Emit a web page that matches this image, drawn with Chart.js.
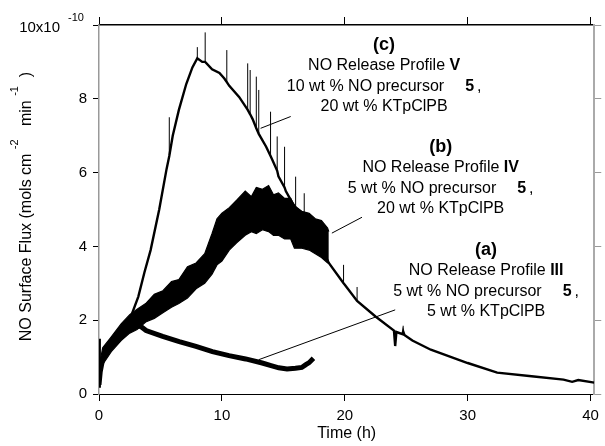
<!DOCTYPE html>
<html>
<head>
<meta charset="utf-8">
<script src="https://cdn.jsdelivr.net/npm/chart.js@4.4.0/dist/chart.umd.min.js"></script>
<style>
  body { margin: 0; background: #fff; }
  #chart { display: block; }
</style>
</head>
<body>
<canvas id="chart" width="605" height="446"></canvas>
<script>
// DATA  (time in h, flux in units of 1e-10 mol cm-2 min-1)
const xTicks = [0, 10, 20, 30, 40];
const yTicks = [0, 2, 4, 6, 8, 10];

// (a) profile III
const timeIII = [0, 0.1, 0.3, 0.7, 1.2, 1.8, 2.4, 3.0, 3.4, 3.83, 5.18, 6.53, 7.89, 9.23, 10.58, 11.93, 13.28, 14.0, 14.63, 15.3, 15.98, 16.5, 16.8, 17.1, 17.45];
const fluxIII = [0.25, 0.6, 0.95, 1.2, 1.35, 1.55, 1.75, 1.85, 1.83, 1.72, 1.56, 1.42, 1.29, 1.15, 1.04, 0.95, 0.84, 0.77, 0.71, 0.68, 0.70, 0.72, 0.79, 0.85, 0.97];

// (b) profile IV - noisy band, read as upper / lower edge
const timeIV = [0, 0.1, 0.3, 1.0, 1.8, 2.5, 3.1, 3.8, 4.5, 5.2, 5.9, 6.5, 7.2, 7.9, 8.6, 9.2, 9.6, 10.0, 10.6, 11.2, 11.9, 12.4, 12.8, 13.3, 13.8, 14.2, 14.6, 15.1, 15.6, 15.9, 16.5, 17.1, 17.6, 18.1, 18.6, 18.7];
const upperIV = [0.35, 0.9, 1.25, 1.55, 1.9, 2.15, 2.3, 2.45, 2.7, 2.8, 3.05, 3.1, 3.45, 3.55, 3.8, 4.35, 4.75, 4.9, 5.05, 5.25, 5.5, 5.35, 5.6, 5.55, 5.65, 5.4, 5.45, 5.3, 5.3, 5.1, 4.95, 4.9, 4.75, 4.7, 4.5, 4.4];
const lowerIV = [0.2, 0.5, 0.8, 1.15, 1.45, 1.65, 1.75, 1.95, 2.05, 2.2, 2.35, 2.45, 2.6, 2.85, 3.0, 3.25, 3.5, 3.6, 3.9, 4.1, 4.3, 4.4, 4.35, 4.45, 4.4, 4.3, 4.3, 4.2, 4.2, 3.95, 3.95, 3.9, 3.8, 3.7, 3.55, 3.55];

// (c) profile V and its long tail
const timeV = [0, 0.04, 0.08, 0.3, 1.0, 1.8, 2.6, 3.2, 3.7, 4.2, 4.9, 5.5, 5.72, 6.0, 6.5, 7.1, 7.6, 8.0, 8.4, 8.64, 9.2, 9.8, 10.2, 10.4, 10.6, 11.4, 11.9, 12.1, 12.3, 12.5, 12.8, 13.0, 13.6, 13.96, 14.1, 14.5, 14.6, 15.1, 15.2, 15.7, 16.0, 16.3, 16.7, 17.0, 17.8, 18.7, 19.9, 20.0, 21.0, 22.5, 24.0, 24.1, 24.2, 24.7, 24.75, 24.85, 25.5, 27.0, 30.0, 32.4, 35.2, 37.8, 38.5, 39.0, 40.3];
const fluxV = [0.2, 1.5, 0.45, 0.9, 1.3, 1.65, 2.1, 2.64, 3.3, 3.9, 5.0, 6.1, 6.45, 7.0, 7.7, 8.4, 8.85, 9.1, 9.0, 9.0, 8.8, 8.7, 8.55, 8.45, 8.35, 8.05, 7.8, 7.7, 7.58, 7.45, 7.2, 7.05, 6.7, 6.45, 6.35, 6.05, 5.9, 5.6, 5.5, 5.2, 5.05, 4.95, 4.75, 4.6, 4.2, 3.55, 3.0, 2.96, 2.52, 2.1, 1.72, 1.3, 1.68, 1.62, 1.7, 1.6, 1.45, 1.2, 0.84, 0.58, 0.48, 0.39, 0.33, 0.38, 0.31];
// thin spikes on (c): time, foot, tip
const spikeTimeV = [5.72, 8.0, 8.64, 10.4, 12.1, 12.3, 12.8, 13.0, 13.96, 14.5, 15.1, 16.0, 16.7, 19.9, 21.0, 24.75];
const spikeFootV = [6.45, 9.1, 9.0, 8.45, 7.7, 7.58, 7.2, 7.05, 6.45, 6.05, 5.6, 5.05, 4.75, 3.0, 2.52, 1.62];
const spikeTipV = [7.5, 9.4, 9.8, 9.32, 8.96, 8.78, 8.6, 8.24, 7.65, 6.98, 6.7, 5.89, 5.44, 3.5, 2.9, 1.85];

// callout lines, [time, flux] end points
const leaderV = [[13.15, 7.2], [15.6, 7.52]];
const leaderIV = [[18.95, 4.36], [21.4, 4.79]];
const leaderIII = [[13.0, 0.93], [24.1, 2.28]];

// labels: tag, profile numeral, loading, salt, anchor [time, flux] of first line
const notes = [
  { tag: "(c)", roman: "V", load: "10 wt % NO precursor", salt: "20 wt % KTpClPB", at: [23.2, 9.46] },
  { tag: "(b)", roman: "IV", load: "5 wt % NO precursor", salt: "20 wt % KTpClPB", at: [27.8, 6.70] },
  { tag: "(a)", roman: "III", load: "5 wt % NO precursor", salt: "5 wt % KTpClPB", at: [31.5, 3.91] },
];

const FONT = "'Liberation Sans', Arial, Helvetica, sans-serif";

const pts = (xs, ys) => xs.map((x, i) => ({ x: x, y: ys[i] }));
const seg = (p) => p.map(q => ({ x: q[0], y: q[1] }));
// each spike is a short vertical piece, separated by a gap
const spikes = [];
spikeTimeV.forEach((t, i) => {
  spikes.push({ x: t, y: spikeFootV[i] }, { x: t, y: spikeTipV[i] }, { x: t, y: null });
});

function lineSet(data, width) {
  return {
    data: data,
    borderColor: "#000",
    backgroundColor: "#000",
    borderWidth: width,
    pointRadius: 0,
    fill: false,
    tension: 0,
  };
}

// draw a row of [text, bold, size] pieces (numbers = blank gap) centred on cx
function drawRow(ctx, parts, cx, cy) {
  let total = 0;
  const w = parts.map(p => {
    if (typeof p === "number") return p;
    ctx.font = (p[1] ? "bold " : "") + (p[2] || 16) + "px " + FONT;
    return ctx.measureText(p[0]).width;
  });
  w.forEach(v => total += v);
  let x = cx - total / 2;
  parts.forEach((p, i) => {
    if (typeof p !== "number") {
      ctx.font = (p[1] ? "bold " : "") + (p[2] || 16) + "px " + FONT;
      ctx.fillText(p[0], x, cy);
    }
    x += w[i];
  });
}

const textPlugin = {
  id: "texts",
  afterDraw(chart) {
    const ctx = chart.ctx;
    const xs = chart.scales.x, ys = chart.scales.y;
    ctx.save();
    ctx.fillStyle = "#000";
    ctx.textBaseline = "middle";
    ctx.textAlign = "left";

    // callout labels
    notes.forEach(n => {
      const cx = xs.getPixelForValue(n.at[0]);
      const cy = ys.getPixelForValue(n.at[1]);
      drawRow(ctx, [[n.tag, true, 18]], cx, cy);
      drawRow(ctx, [["NO Release Profile ", false], [n.roman, true]], cx, cy + 21);
      drawRow(ctx, [[n.load, false], 21, ["5", true], 3, [",", false]], cx, cy + 41.5);
      drawRow(ctx, [[n.salt, false]], cx, cy + 61.5);
    });

    // top y label with exponent
    const yTop = ys.getPixelForValue(10);
    ctx.textAlign = "right";
    ctx.font = "15px " + FONT;
    ctx.fillText("10x10", 60, yTop + 3);
    ctx.textAlign = "left";
    ctx.font = "11px " + FONT;
    ctx.fillText("-10", 68, yTop - 7);

    // x title
    ctx.textAlign = "center";
    ctx.font = "16px " + FONT;
    ctx.fillText("Time (h)", (chart.chartArea.left + chart.chartArea.right) / 2, 434);

    // y title, rotated
    ctx.translate(26.5, (chart.chartArea.top + chart.chartArea.bottom) / 2 - 3);
    ctx.rotate(-Math.PI / 2);
    const parts = [
      ["NO Surface Flux (mols cm", 16, 0], [" ", 16, 0], ["-2", 11, -12], ["   min", 16, 0],
      [" ", 16, 0], ["-1", 11, -12], ["  )", 16, 0],
    ];
    let total = 0;
    const w = parts.map(p => { ctx.font = p[1] + "px " + FONT; return ctx.measureText(p[0]).width; });
    w.forEach(v => total += v);
    let x = -total / 2;
    ctx.textAlign = "left";
    parts.forEach((p, i) => {
      ctx.font = p[1] + "px " + FONT;
      ctx.fillText(p[0], x, p[2]);
      x += w[i];
    });
    ctx.restore();
  },
};

const xSetTicks = s => { s.ticks = xTicks.map(v => ({ value: v })); };
const ySetTicks = s => { s.ticks = yTicks.map(v => ({ value: v })); };

new Chart(document.getElementById("chart"), {
  type: "line",
  data: {
    datasets: [
      Object.assign(lineSet(pts(timeIV, upperIV), 1.2), { fill: "+1" }),
      lineSet(pts(timeIV, lowerIV), 1.2),
      lineSet(pts(timeIII, fluxIII), 5),
      lineSet(pts(timeV, fluxV), 2.4),
      Object.assign(lineSet(spikes, 1), { spanGaps: false }),
      lineSet(seg(leaderV), 1),
      lineSet(seg(leaderIV), 1),
      lineSet(seg(leaderIII), 1),
    ],
  },
  options: {
    responsive: false,
    animation: false,
    devicePixelRatio: 1,
    layout: { padding: 0 },
    plugins: {
      legend: { display: false },
      tooltip: { enabled: false },
    },
    scales: {
      x: {
        type: "linear",
        position: "bottom",
        min: 0,
        max: 40.3,
        afterBuildTicks: xSetTicks,
        afterFit: s => { s.height = 52; },
        ticks: { color: "#000", font: { size: 15, family: FONT }, padding: 6, maxRotation: 0 },
        grid: { drawOnChartArea: false, tickLength: 7, tickColor: "#000" },
        border: { color: "#000", width: 1 },
      },
      x2: {
        type: "linear",
        position: "top",
        min: 0,
        max: 40.3,
        afterBuildTicks: xSetTicks,
        afterFit: s => { s.height = 25; },
        ticks: { display: false },
        grid: { drawOnChartArea: false, tickLength: 8, tickColor: "#000" },
        border: { color: "#000", width: 1.5 },
      },
      y: {
        type: "linear",
        position: "left",
        min: 0,
        max: 10,
        afterBuildTicks: ySetTicks,
        afterFit: s => { s.width = 99; },
        ticks: {
          color: "#000",
          font: { size: 15, family: FONT },
          padding: 6,
          callback: v => (v === 10 ? "" : v),
        },
        grid: { drawOnChartArea: false, tickLength: 6, tickColor: "#000" },
        border: { color: "#999", width: 1.5 },
      },
      y2: {
        type: "linear",
        position: "right",
        min: 0,
        max: 10,
        afterBuildTicks: ySetTicks,
        afterFit: s => { s.width = 8; },
        ticks: { display: false },
        grid: { drawOnChartArea: false, tickLength: 7, tickColor: "#999" },
        border: { color: "#aaa", width: 2 },
      },
    },
  },
  plugins: [textPlugin],
});
</script>
</body>
</html>
